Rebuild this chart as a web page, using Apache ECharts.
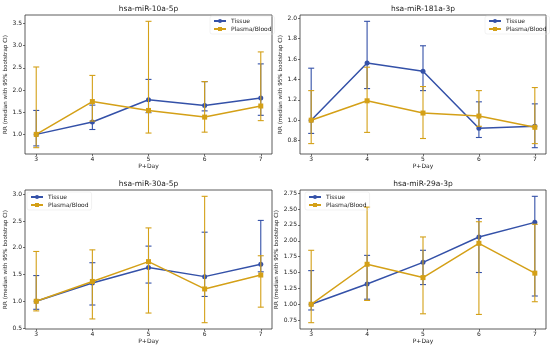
<!DOCTYPE html>
<html><head><meta charset="utf-8">
<script src="https://cdn.jsdelivr.net/npm/echarts@6/dist/echarts.min.js"></script>
<style>html,body{margin:0;padding:0;background:#fff}#c{width:550px;height:350px}</style>
</head><body><div id="c"></div>
<script>
const days = [3, 4, 5, 6, 7];
const titles = ['hsa-miR-10a-5p', 'hsa-miR-181a-3p', 'hsa-miR-30a-5p', 'hsa-miR-29a-3p'];

// hsa-miR-10a-5p
const tissue1 = [1.00, 1.28, 1.78, 1.65, 1.82];
const tissue1Lo = [0.74, 1.11, 1.49, 1.53, 1.43];
const tissue1Hi = [1.54, 1.66, 2.24, 2.19, 2.59];
const plasma1 = [1.00, 1.74, 1.54, 1.39, 1.64];
const plasma1Lo = [0.70, 1.30, 1.03, 1.05, 1.31];
const plasma1Hi = [2.52, 2.33, 3.55, 2.19, 2.86];
// hsa-miR-181a-3p
const tissue2 = [1.00, 1.56, 1.48, 0.92, 0.94];
const tissue2Lo = [0.87, 1.31, 1.29, 0.83, 0.73];
const tissue2Hi = [1.51, 1.97, 1.73, 1.18, 1.16];
const plasma2 = [1.00, 1.19, 1.07, 1.04, 0.93];
const plasma2Lo = [0.77, 0.88, 0.82, 0.94, 0.77];
const plasma2Hi = [1.29, 1.52, 1.33, 1.29, 1.32];
// hsa-miR-30a-5p
const tissue3 = [1.00, 1.34, 1.63, 1.46, 1.69];
const tissue3Lo = [0.85, 0.93, 1.34, 1.09, 1.55];
const tissue3Hi = [1.48, 1.72, 2.03, 2.29, 2.51];
const plasma3 = [1.00, 1.37, 1.74, 1.23, 1.49];
const plasma3Lo = [0.82, 0.67, 0.78, 0.60, 0.89];
const plasma3Hi = [1.93, 1.96, 2.37, 2.96, 1.85];
// hsa-miR-29a-3p
const tissue4 = [1.00, 1.32, 1.66, 2.06, 2.29];
const tissue4Lo = [0.91, 1.08, 1.31, 1.50, 1.13];
const tissue4Hi = [1.53, 1.77, 1.85, 2.35, 2.70];
const plasma4 = [1.00, 1.63, 1.42, 1.96, 1.49];
const plasma4Lo = [0.71, 1.06, 0.85, 0.84, 1.04];
const plasma4Hi = [1.85, 2.53, 2.06, 2.30, 2.26];

const yTicks1 = [1.0, 1.5, 2.0, 2.5, 3.0, 3.5];
const yTicks2 = [0.8, 1.0, 1.2, 1.4, 1.6, 1.8, 2.0];
const yTicks3 = [0.5, 1.0, 1.5, 2.0, 2.5, 3.0];
const yTicks4 = [0.75, 1.00, 1.25, 1.50, 1.75, 2.00, 2.25, 2.50, 2.75];
const yDecimals = [1, 1, 1, 2];

const panels = [
  {t: tissue1, tl: tissue1Lo, th: tissue1Hi, p: plasma1, pl: plasma1Lo, ph: plasma1Hi, ticks: yTicks1},
  {t: tissue2, tl: tissue2Lo, th: tissue2Hi, p: plasma2, pl: plasma2Lo, ph: plasma2Hi, ticks: yTicks2},
  {t: tissue3, tl: tissue3Lo, th: tissue3Hi, p: plasma3, pl: plasma3Lo, ph: plasma3Hi, ticks: yTicks3},
  {t: tissue4, tl: tissue4Lo, th: tissue4Hi, p: plasma4, pl: plasma4Lo, ph: plasma4Hi, ticks: yTicks4}
];

const BLUE = '#3451a8';
const GOLD = '#d4a017';
const FONT = 'DejaVu Sans';
const boxes = [
  {left: 25, top: 15, width: 247, height: 139},
  {left: 300, top: 15, width: 246, height: 139},
  {left: 25, top: 190, width: 247, height: 139},
  {left: 300, top: 190, width: 246, height: 139}
];
const legendPos = [
  {left: 210, top: 16}, {left: 485, top: 16}, {left: 27, top: 192}, {left: 305, top: 192}
];

const grid = [], xAxis = [], yAxis = [], series = [], title = [], legend = [];

function errRender(color) {
  return function (params, api) {
    const x = api.value(0), lo = api.value(1), hi = api.value(2);
    const a = api.coord([x, lo]), b = api.coord([x, hi]);
    const st = {stroke: color, lineWidth: 1.1};
    return {type: 'group', children: [
      {type: 'line', shape: {x1: a[0], y1: a[1], x2: b[0], y2: b[1]}, style: st},
      {type: 'line', shape: {x1: a[0] - 3, y1: a[1], x2: a[0] + 3, y2: a[1]}, style: st},
      {type: 'line', shape: {x1: b[0] - 3, y1: b[1], x2: b[0] + 3, y2: b[1]}, style: st}
    ]};
  };
}

panels.forEach((pn, i) => {
  const b = boxes[i];
  grid.push({left: b.left, top: b.top, width: b.width, height: b.height, show: true,
    borderColor: '#333', borderWidth: 0.8, backgroundColor: 'transparent'});
  title.push({text: titles[i], left: b.left + b.width / 2, top: b.top - 10, textAlign: 'center', padding: 0,
    textStyle: {fontSize: 7.5, fontWeight: 'normal', color: '#222', fontFamily: FONT}});
  xAxis.push({type: 'value', gridIndex: i, min: 2.8, max: 7.2,
    name: 'P+Day', nameLocation: 'middle', nameGap: 9,
    nameTextStyle: {fontSize: 6, color: '#222', fontFamily: FONT},
    axisLine: {show: false}, splitLine: {show: false},
    axisTick: {show: true, length: 2, customValues: days, lineStyle: {color: '#333', width: 0.7}},
    axisLabel: {customValues: days, margin: 2, fontSize: 6, color: '#222', fontFamily: FONT}});
  const lo = Math.min(...pn.tl, ...pn.pl), hi = Math.max(...pn.th, ...pn.ph);
  const pad = (hi - lo) * 0.05;
  yAxis.push({type: 'value', gridIndex: i, min: lo - pad, max: hi + pad,
    name: 'RR (median with 95% bootstrap CI)', nameLocation: 'middle', nameGap: 13,
    nameTextStyle: {fontSize: 5.6, color: '#222', fontFamily: FONT},
    axisLine: {show: false}, splitLine: {show: false},
    axisTick: {show: true, length: 2, customValues: pn.ticks, lineStyle: {color: '#333', width: 0.7}},
    axisLabel: {customValues: pn.ticks, margin: 3, fontSize: 6, color: '#222', fontFamily: FONT,
      formatter: v => v.toFixed(yDecimals[i])}});
  series.push({type: 'custom', name: 'Tissue CI', xAxisIndex: i, yAxisIndex: i, z: 1,
    renderItem: errRender(BLUE), data: days.map((d, k) => [d, pn.tl[k], pn.th[k]]), silent: true});
  series.push({type: 'line', name: 'Tissue', xAxisIndex: i, yAxisIndex: i, z: 2,
    data: days.map((d, k) => [d, pn.t[k]]), symbol: 'circle', symbolSize: 5,
    itemStyle: {color: BLUE}, lineStyle: {color: BLUE, width: 1.5}});
  series.push({type: 'custom', name: 'Plasma CI', xAxisIndex: i, yAxisIndex: i, z: 3,
    renderItem: errRender(GOLD), data: days.map((d, k) => [d, pn.pl[k], pn.ph[k]]), silent: true});
  series.push({type: 'line', name: 'Plasma/Blood', xAxisIndex: i, yAxisIndex: i, z: 4,
    data: days.map((d, k) => [d, pn.p[k]]), symbol: 'rect', symbolSize: 5,
    itemStyle: {color: GOLD}, lineStyle: {color: GOLD, width: 1.5}});
  legend.push({data: ['Tissue', 'Plasma/Blood'], left: legendPos[i].left, top: legendPos[i].top,
    orient: 'vertical', itemWidth: 12, itemHeight: 5, itemGap: 2, padding: [2, 3],
    borderColor: '#e4e4e4', borderWidth: 0.5, borderRadius: 2,
    textStyle: {fontSize: 6, color: '#222', fontFamily: FONT, lineHeight: 6}});
});

const chart = echarts.init(document.getElementById('c'), null, {renderer: 'canvas'});
chart.setOption({animation: false, backgroundColor: '#fff', title, legend, grid, xAxis, yAxis, series});
</script>
</body></html>
